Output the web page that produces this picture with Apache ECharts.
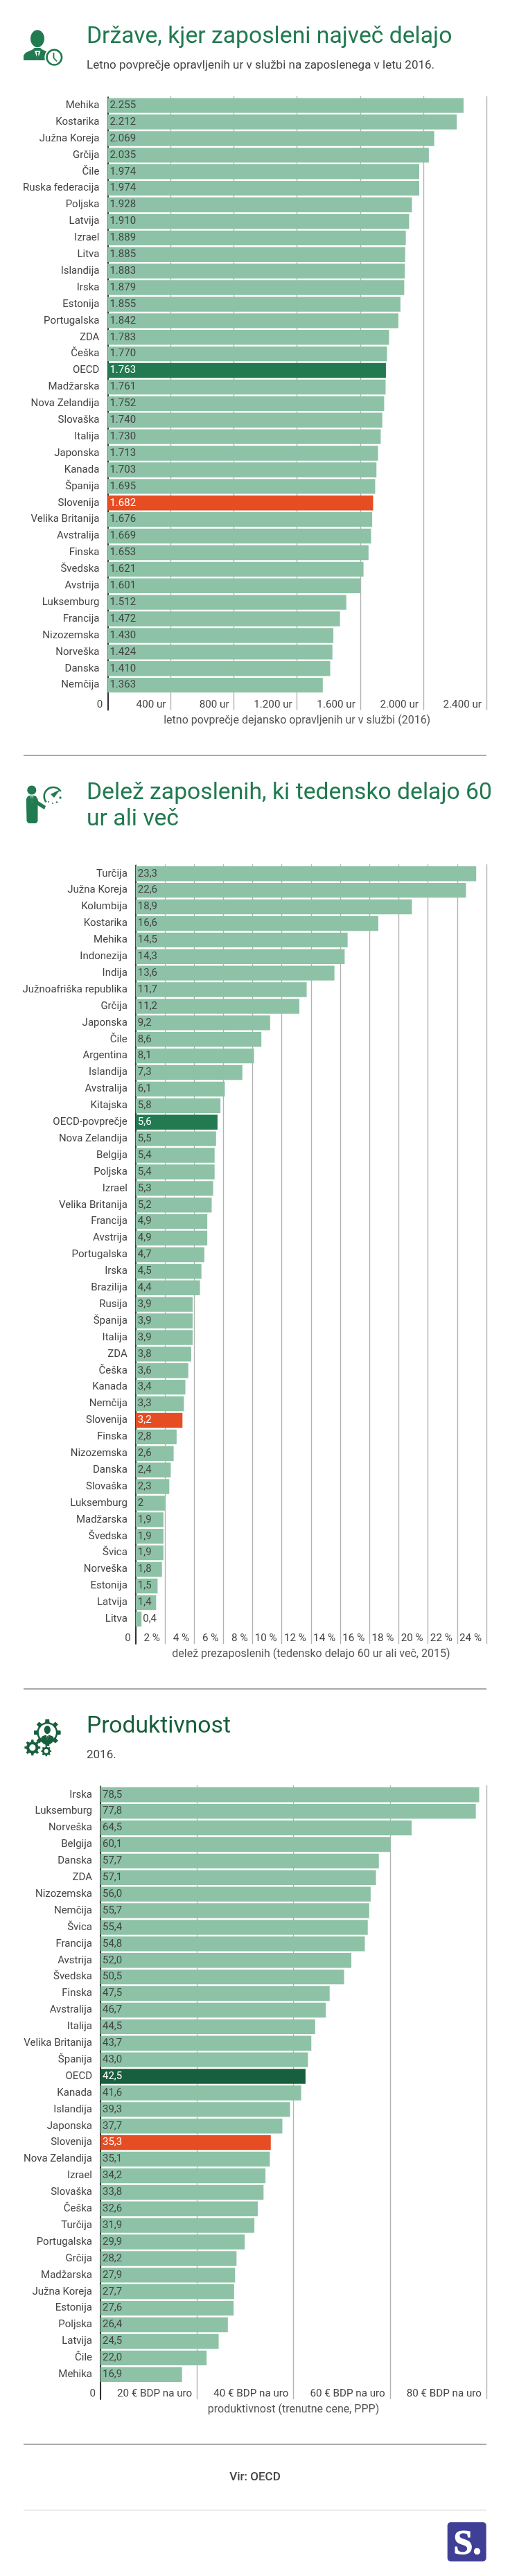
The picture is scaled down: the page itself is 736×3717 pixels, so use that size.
<!DOCTYPE html>
<html><head><meta charset="utf-8">
<script src="https://cdn.jsdelivr.net/npm/echarts@6/dist/echarts.min.js"></script>
<style>html,body{margin:0;padding:0;background:#fff}#c{width:736px;height:3717px}</style>
</head><body><div id="c"></div>
<script>
const hoursCategories=['Mehika','Kostarika','Južna Koreja','Grčija','Čile','Ruska federacija','Poljska','Latvija','Izrael','Litva','Islandija','Irska','Estonija','Portugalska','ZDA','Češka','OECD','Madžarska','Nova Zelandija','Slovaška','Italija','Japonska','Kanada','Španija','Slovenija','Velika Britanija','Avstralija','Finska','Švedska','Avstrija','Luksemburg','Francija','Nizozemska','Norveška','Danska','Nemčija'];
const hoursValues=[2255,2212,2069,2035,1974,1974,1928,1910,1889,1885,1883,1879,1855,1842,1783,1770,1763,1761,1752,1740,1730,1713,1703,1695,1682,1676,1669,1653,1621,1601,1512,1472,1430,1424,1410,1363];
const hoursTicks=['0','400 ur','800 ur','1.200 ur','1.600 ur','2.000 ur','2.400 ur'];

const shareCategories=['Turčija','Južna Koreja','Kolumbija','Kostarika','Mehika','Indonezija','Indija','Južnoafriška republika','Grčija','Japonska','Čile','Argentina','Islandija','Avstralija','Kitajska','OECD-povprečje','Nova Zelandija','Belgija','Poljska','Izrael','Velika Britanija','Francija','Avstrija','Portugalska','Irska','Brazilija','Rusija','Španija','Italija','ZDA','Češka','Kanada','Nemčija','Slovenija','Finska','Nizozemska','Danska','Slovaška','Luksemburg','Madžarska','Švedska','Švica','Norveška','Estonija','Latvija','Litva'];
const shareValues=[23.3,22.6,18.9,16.6,14.5,14.3,13.6,11.7,11.2,9.2,8.6,8.1,7.3,6.1,5.8,5.6,5.5,5.4,5.4,5.3,5.2,4.9,4.9,4.7,4.5,4.4,3.9,3.9,3.9,3.8,3.6,3.4,3.3,3.2,2.8,2.6,2.4,2.3,2,1.9,1.9,1.9,1.8,1.5,1.4,0.4];
const shareTicks=['0','2 %','4 %','6 %','8 %','10 %','12 %','14 %','16 %','18 %','20 %','22 %','24 %'];

const prodCategories=['Irska','Luksemburg','Norveška','Belgija','Danska','ZDA','Nizozemska','Nemčija','Švica','Francija','Avstrija','Švedska','Finska','Avstralija','Italija','Velika Britanija','Španija','OECD','Kanada','Islandija','Japonska','Slovenija','Nova Zelandija','Izrael','Slovaška','Češka','Turčija','Portugalska','Grčija','Madžarska','Južna Koreja','Estonija','Poljska','Latvija','Čile','Mehika'];
const prodValues=[78.5,77.8,64.5,60.1,57.7,57.1,56.0,55.7,55.4,54.8,52.0,50.5,47.5,46.7,44.5,43.7,43.0,42.5,41.6,39.3,37.7,35.3,35.1,34.2,33.8,32.6,31.9,29.9,28.2,27.9,27.7,27.6,26.4,24.5,22.0,16.9];
const prodTicks=['0','20 € BDP na uro','40 € BDP na uro','60 € BDP na uro','80 € BDP na uro'];

const FONT='Roboto';
const BAR='#8DC2A6', SI='#E64D23', TXT='#444', GRID='#b3b3b3', AXIS='#333';
const G1='#217A50',G3='#175F3D';
const fmtComma=v=>String(v).replace('.',',');
const fmtHours=v=>{const s=String(v);return s.slice(0,1)+'.'+s.slice(1);};

const panels=[
 {cats:hoursCategories,vals:hoursValues,ticks:hoursTicks,max:2400,interval:400,left:155.4,top:140.2,fmt:fmtHours,name:'letno povprečje dejansko opravljenih ur v službi (2016)',oecd:'OECD',oecdCol:G1},
 {cats:shareCategories,vals:shareValues,ticks:shareTicks,max:24,interval:2,left:195.8,top:1248.8,fmt:fmtComma,name:'delež prezaposlenih (tedensko delajo 60 ur ali več, 2015)',oecd:'OECD-povprečje',oecdCol:G1},
 {cats:prodCategories,vals:prodValues,ticks:prodTicks,max:80,interval:20,left:145,top:2577.8,fmt:v=>v.toFixed(1).replace('.',','),name:'produktivnost (trenutne cene, PPP)',oecd:'OECD',oecdCol:G3}
];
const PITCH=23.9, FS=15;
const grid=[],xAxis=[],yAxis=[],series=[];
panels.forEach((p,i)=>{
 const n=p.cats.length+1;
 grid.push({left:p.left,width:702-p.left,top:p.top,height:n*PITCH});
 xAxis.push({gridIndex:i,type:'value',min:0,max:p.max,interval:p.interval,position:'bottom',
  axisLine:{show:false},axisTick:{show:false},
  splitLine:{show:true,lineStyle:{color:GRID,width:1.4}},
  axisLabel:{inside:true,margin:0,align:'right',padding:[0,7,0,0],color:TXT,fontFamily:FONT,fontSize:15.2,hideOverlap:false,showMinLabel:true,showMaxLabel:true,
   formatter:v=>p.ticks[Math.round(v/p.interval)]},
  name:p.name,nameLocation:'middle',nameGap:7,nameMoveOverlap:false,nameTextStyle:{color:'#555',fontFamily:FONT,fontSize:16,verticalAlign:'top'}});
 yAxis.push({gridIndex:i,type:'category',inverse:true,data:p.cats.concat(['']),
  axisLine:{show:true,lineStyle:{color:AXIS,width:2}},axisTick:{show:false},
  axisLabel:{color:TXT,fontFamily:FONT,fontSize:FS,margin:12,interval:0},splitLine:{show:false}});
 series.push({type:'bar',xAxisIndex:i,yAxisIndex:i,barCategoryGap:'10.5%',silent:true,z:3,
  data:p.vals.map((v,k)=>{
   const c=p.cats[k];
   const col=c===p.oecd?p.oecdCol:c==='Slovenija'?SI:BAR;
   const item={value:v,itemStyle:{color:col},label:{color:(col===BAR)?TXT:'#fff'}};
   if(v===0.4){item.label={position:'right',distance:2,color:TXT};}
   return item;
  }),
  label:{show:true,position:'insideLeft',distance:3,fontFamily:FONT,fontSize:FS,formatter:o=>p.fmt(o.value)}});
});
panels.forEach((p,i)=>{
 xAxis.push({gridIndex:i,type:'value',min:0,max:p.max,interval:p.interval,position:'top',
  axisLine:{show:false},axisLabel:{show:false},splitLine:{show:false},
  axisTick:{show:true,length:1.6,lineStyle:{color:GRID,width:1.4}}});
});

const T=(x,y,text,size,fill,extra)=>({type:'text',x,y,style:Object.assign({text,fontFamily:FONT,fontSize:size,fill,textVerticalAlign:'middle'},extra||{})});
const L=(y,c,w)=>({type:'line',shape:{x1:34,y1:y,x2:702,y2:y},style:{stroke:c,lineWidth:w}});
const poly=(pts,fill,smooth)=>({type:'polygon',shape:{points:pts,smooth:smooth||0},style:{fill}});
const circ=(cx,cy,r,fill)=>({type:'circle',shape:{cx,cy,r},style:{fill}});
const gear=(cx,cy,R,rIn,teeth,hole,col,holeCol)=>{
 const pts=[];const step=Math.PI*2/teeth;
 for(let k=0;k<teeth;k++){
  const a=k*step;
  [[-0.5,rIn],[-0.27,rIn],[-0.18,R],[0.18,R],[0.27,rIn]].forEach(([o,r])=>{
   pts.push([cx+r*Math.cos(a+o*step),cy+r*Math.sin(a+o*step)]);});
 }
 return [poly(pts,col),circ(cx,cy,hole,holeCol||'#fff')];
};
const iconHours=[
 {type:'ellipse',shape:{cx:54,cy:55.7,rx:10,ry:12.5},style:{fill:G1}},
 poly([[34,87],[34,80],[37,76],[47,71.5],[50,69],[58,69],[61,71.5],[71,76],[74,87]],G1),
 poly([[50,73.5],[58.5,73.5],[54.3,86]],'#fff'),
 poly([[52.7,75],[55.9,75],[55.2,78],[56.2,83],[54.3,86],[52.4,83],[53.4,78]],G1),
 circ(78.3,82.7,14,'#fff'),
 {type:'circle',shape:{cx:78.3,cy:82.7,r:10.8},style:{fill:'none',stroke:G1,lineWidth:2.6}},
 {type:'polyline',shape:{points:[[77.5,76],[77.5,83.5],[82,88.5]]},style:{fill:'none',stroke:G1,lineWidth:1.8}}
];
const iconShare=[
 circ(45.8,1140,6.6,G1),
 poly([[37.8,1153],[40,1149],[44,1147.5],[48,1147.5],[52,1149],[54.5,1153],[55,1156],[66,1163],[64,1168],[54.5,1162],[54.5,1185],[52,1188],[41,1188],[38.5,1185]],G1),
 poly([[44,1148],[48.3,1148],[46.1,1158]],'#fff'),
 poly([[45.2,1149],[47.1,1149],[47.2,1155],[46.1,1158],[45,1155]],G1),
 {type:'arc',shape:{cx:76.7,cy:1149,r:13,startAngle:Math.PI*0.78,endAngle:Math.PI*1.82,clockwise:true},style:{fill:'none',stroke:G1,lineWidth:2.6}},
 poly([[73,1146],[87,1139],[78,1151]],G1),
 circ(70,1157,1,G1),circ(76,1159,1,G1),circ(82,1157.5,1.2,G1),circ(87,1151,1.7,G1)
];
const iconProd=[]
 .concat(gear(68.3,2500,19.5,15,8,12.5,G3))
 .concat([
  {type:'ellipse',shape:{cx:68.3,cy:2496,rx:4.6,ry:6},style:{fill:G3}},
  poly([[58,2512],[60,2506],[65,2503.5],[71.5,2503.5],[77,2506],[78.5,2512],[72,2517],[64,2517]],G3),
  poly([[66.7,2504],[69.9,2504],[68.3,2510]],'#fff'),
  poly([[67.8,2505],[68.8,2505],[69,2508],[68.3,2510],[67.6,2508]],G3)
 ])
 .concat(gear(46.8,2521.7,11.5,8.7,8,4.6,G3))
 .concat(gear(66.7,2526.7,7.5,5.8,8,2.9,G3));

const graphic=[
 T(125,54,'Države, kjer zaposleni največ delajo',33.7,G1),
 T(125,95,'Letno povprečje opravljenih ur v službi na zaposlenega v letu 2016.',17,'#444'),
 T(125,1144.6,'Delež zaposlenih, ki tedensko delajo 60',33.7,G1),
 T(125,1183,'ur ali več',33.7,G1),
 T(125,2491.4,'Produktivnost',33.7,G3),
 T(125,2532.5,'2016.',17,'#444'),
 T(368,3575,'Vir: OECD',17,'#444',{textAlign:'center',fontWeight:500}),
 L(1090,'#aaa',2),L(2437,'#aaa',2),L(3527,'#aaa',2),L(3622,'#e5e5e5',1.5),
 {type:'rect',shape:{x:645.7,y:3639.3,width:56,height:56.7,r:5},style:{fill:'#3F3F96'}},
 T(674.7,3672,'S.',50,'#fff',{fontFamily:'Liberation Serif',fontWeight:700,textAlign:'center',stroke:'#fff',lineWidth:1.2})
].concat(iconHours,iconShare,iconProd);
const chart=echarts.init(document.getElementById('c'),null,{renderer:'canvas',width:736,height:3717});
chart.setOption({animation:false,backgroundColor:'#fff',grid,xAxis,yAxis,series,graphic:{elements:graphic}});
</script></body></html>
